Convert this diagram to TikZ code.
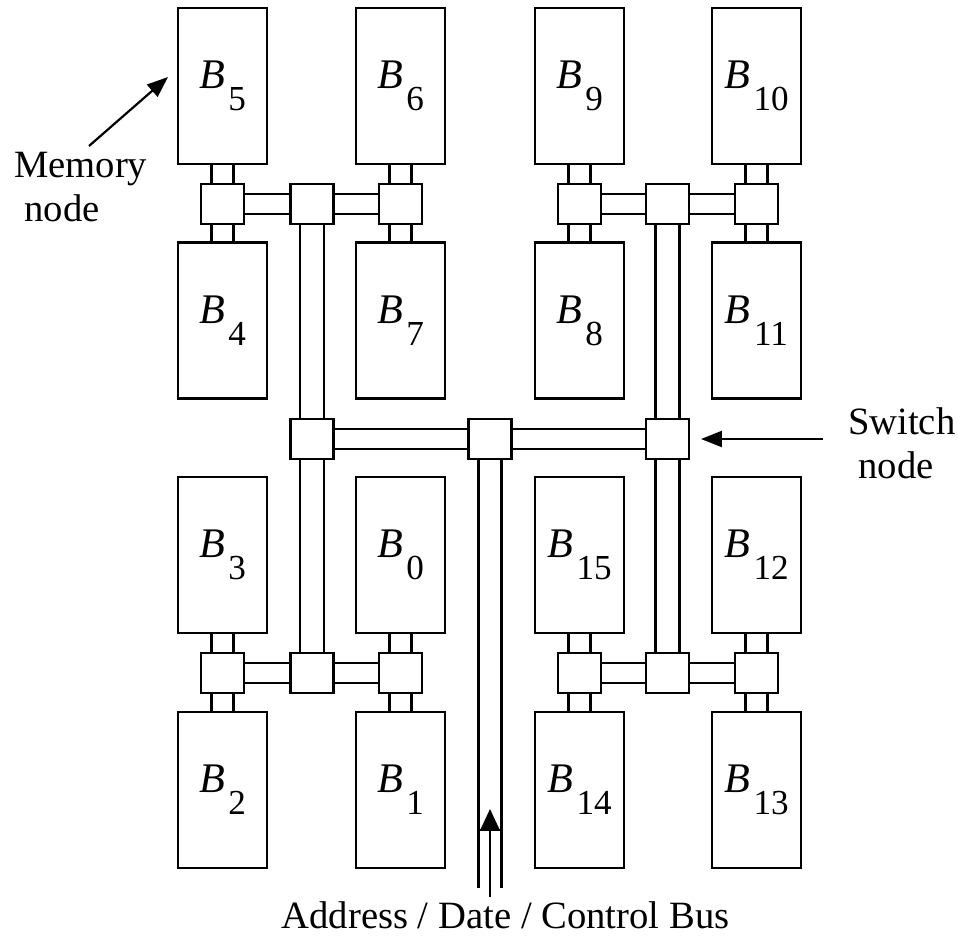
\documentclass[tikz,border=0pt]{standalone}
\usepackage{fontspec}
\setmainfont{Liberation Serif}
\usetikzlibrary{arrows.meta}
\newcommand{\blab}[1]{\fontsize{24}{24}\selectfont\textit{B}\hspace{2pt}\raisebox{-12.5pt}{\fontsize{20}{20}\selectfont #1}}
\newcommand{\vlink}[3][.22cm]{\draw ([xshift=-#1]#2.south) -- ([xshift=-#1]#3.north) ([xshift=#1]#2.south) -- ([xshift=#1]#3.north);}
\newcommand{\hlink}[2]{\draw ([yshift=-.2cm]#1.east) -- ([yshift=-.2cm]#2.west) ([yshift=.2cm]#1.east) -- ([yshift=.2cm]#2.west);}
\begin{document}
\begin{tikzpicture}[x=.02cm,y=-.02cm,line width=1.25pt,
  mem/.style={draw,minimum width=1.78cm,minimum height=3.12cm,inner sep=0pt},
  sw/.style={draw,fill=white,minimum width=.86cm,minimum height=.8cm,inner sep=0pt},
  lab/.style={font=\fontsize{22}{25}\selectfont,align=left,anchor=west,inner sep=0pt},
  tip/.style={-{Triangle[length=.42cm,width=.32cm]}}]
  \useasboundingbox (0,0) rectangle (958,937);
  % memory nodes
  \foreach \n/\px/\py in {5/222.5/86,6/400.5/86,9/579.5/86,10/756.5/86,
    4/222.5/320.5,7/400.5/320.5,8/579.5/320.5,11/756.5/320.5,
    3/222.5/555,0/400.5/555,15/579.5/555,12/756.5/555,
    2/222.5/790,1/400.5/790,14/579.5/790,13/756.5/790}
    \node[mem] (b\n) at (\px,\py) {\blab{\n}};
  % switch nodes
  \foreach \s/\px/\py in {a1/222.5/204,a2/312/204,a3/400.5/204,
    b1/579.5/204,b2/667.5/204,b3/756.5/204,
    c1/312/439,c2/490/439,c3/667.5/439,
    d1/222.5/673,d2/312/673,d3/400.5/673,
    e1/579.5/673,e2/667.5/673,e3/756.5/673}
    \node[sw] (s\s) at (\px,\py) {};
  % links
  \vlink{b5}{sa1} \vlink{sa1}{b4} \vlink{b6}{sa3} \vlink{sa3}{b7}
  \vlink{b9}{sb1} \vlink{sb1}{b8} \vlink{b10}{sb3} \vlink{sb3}{b11}
  \vlink{b3}{sd1} \vlink{sd1}{b2} \vlink{b0}{sd3} \vlink{sd3}{b1}
  \vlink{b15}{se1} \vlink{se1}{b14} \vlink{b12}{se3} \vlink{se3}{b13}
  \vlink[.24cm]{sa2}{sc1} \vlink[.24cm]{sc1}{sd2}
  \vlink[.24cm]{sb2}{sc3} \vlink[.24cm]{sc3}{se2}
  \hlink{sa1}{sa2} \hlink{sa2}{sa3} \hlink{sb1}{sb2} \hlink{sb2}{sb3}
  \hlink{sc1}{sc2} \hlink{sc2}{sc3}
  \hlink{sd1}{sd2} \hlink{sd2}{sd3} \hlink{se1}{se2} \hlink{se2}{se3}
  % bus
  \coordinate (busend) at (490,888);
  \coordinate (busbase) at (490,830);
  \coordinate (busin) at (490,897);
  \draw ([xshift=-.23cm]sc2.south) -- ([xshift=-.23cm]busend)
        ([xshift=.23cm]sc2.south) -- ([xshift=.23cm]busend);
  \draw ([xshift=-.23cm]busbase) -- ([xshift=.23cm]busbase);
  \draw[-{Triangle[length=.42cm,width=.38cm]}] (busin) -- (490,809);
  \node[font=\fontsize{22}{25}\selectfont,anchor=base] (buslab) at (505.5,928) {Address / Date / Control Bus};
  % labels
  \node[lab] (memlab) at (13,187) {Memory\\\hspace{6pt}node};
  \node[lab] (swlab) at (847,443) {Switch\\\hspace{6pt}node};
  \coordinate (memtip) at (168,77);
  \coordinate (swtip) at (701,439);
  \draw[tip] (89,146) -- (memtip);
  \draw[tip] (823,439) -- (swtip);
\end{tikzpicture}
\end{document}
